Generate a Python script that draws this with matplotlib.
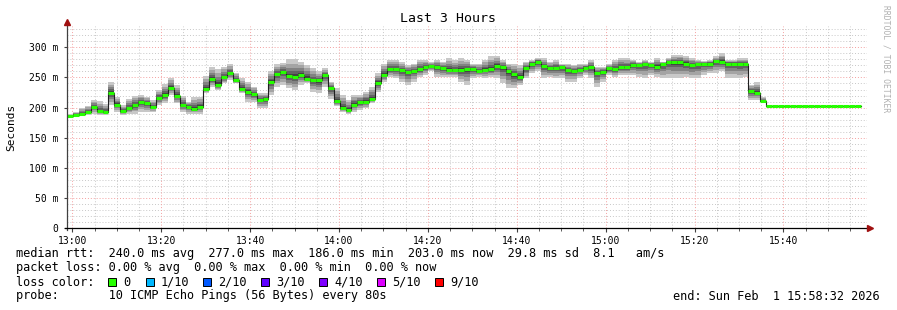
import numpy as np
import matplotlib
matplotlib.use("Agg")
import matplotlib.pyplot as plt
from matplotlib.patches import Rectangle

# ── Data, one value per 80 s step ─────────────────────────────
step_min = 80 / 60.0          # step length in minutes
start_min = -1.2              # first step start, minutes after 13:00

median_ms = [
    186, 188, 189, 192, 201, 194, 193, 225, 205, 194, 199, 204, 209, 207, 201, 216, 221, 233, 219, 204, 201, 198,
    201, 231, 247, 238, 250, 257, 246, 231, 226, 222, 213, 214, 242, 255, 259, 252, 251, 254, 248, 245, 245, 254, 232,
    211, 199, 196, 205, 209, 210, 215, 241, 254, 264, 264, 262, 259, 261, 264, 267, 269, 267, 265, 262, 262, 263,
    264, 264, 261, 263, 264, 269, 267, 261, 255, 250, 265, 273, 276, 269, 265, 266, 267, 263, 261, 263, 266, 267, 258,
    259, 265, 264, 267, 267, 271, 271, 272, 271, 268, 272, 276, 275, 275, 273, 271, 272, 273, 273, 277, 276, 273, 273,
    272, 272, 227, 225, 211,
    203, 203, 203, 203, 203, 203, 203, 203, 203, 203, 203, 203, 203, 203, 203, 203,
]
smoke_hi = [
    189, 193, 200, 203, 213, 211, 206, 242, 218, 204, 215, 220, 221, 218, 213, 229, 239, 249, 238, 220, 210, 218,
    218, 252, 268, 264, 268, 272, 258, 249, 243, 235, 224, 224, 261, 272, 274, 280, 280, 276, 271, 265, 260, 265, 243,
    232, 221, 213, 221, 221, 226, 235, 257, 273, 279, 279, 276, 271, 273, 279, 279, 276, 279, 276, 282, 279, 282,
    279, 273, 273, 279, 285, 286, 279, 273, 273, 271, 276, 279, 283, 282, 276, 279, 273, 273, 271, 273, 273, 279, 268,
    268, 273, 279, 283, 282, 279, 276, 279, 276, 282, 276, 282, 287, 288, 285, 282, 279, 277, 279, 285, 290, 279, 279,
    282, 282, 238, 242, 218,
    203, 203, 203, 203, 203, 203, 203, 203, 203, 203, 203, 203, 203, 203, 203, 203,
]
smoke_lo = [
    182, 185, 186, 188, 190, 188, 188, 204, 193, 188, 190, 190, 193, 193, 193, 204, 207, 221, 207, 193, 190, 190,
    190, 224, 235, 229, 240, 246, 240, 224, 210, 210, 199, 199, 221, 235, 238, 232, 229, 238, 240, 226, 224, 235, 215,
    202, 193, 190, 193, 196, 199, 207, 226, 243, 251, 249, 243, 238, 243, 251, 254, 260, 251, 251, 251, 251, 243,
    238, 249, 251, 249, 251, 249, 240, 232, 232, 238, 249, 257, 260, 249, 251, 249, 249, 243, 243, 249, 254, 249, 235,
    243, 254, 251, 254, 254, 254, 251, 249, 254, 251, 249, 249, 249, 249, 251, 249, 249, 254, 257, 257, 260, 249, 249,
    249, 251, 213, 213, 209,
    203, 203, 203, 203, 203, 203, 203, 203, 203, 203, 203, 203, 203, 203, 203, 203,
]

y_ticks = [0, 50, 100, 150, 200, 250, 300]
y_tick_labels = ["0", "50 m", "100 m", "150 m", "200 m", "250 m", "300 m"]
x_major = [0, 20, 40, 60, 80, 100, 120, 140, 160]

loss_labels = ["0", "1/10", "2/10", "3/10", "4/10", "5/10", "9/10"]
loss_colors = ["#26ff00", "#00b8ff", "#0059ff", "#5e00ff", "#7e00ff", "#dd00ff", "#ff0000"]

legend_lines = [
    "median rtt:  240.0 ms avg  277.0 ms max  186.0 ms min  203.0 ms now  29.8 ms sd  8.1   am/s",
    "packet loss: 0.00 % avg  0.00 % max  0.00 % min  0.00 % now",
    "loss color:",
    "probe:       10 ICMP Echo Pings (56 Bytes) every 80s",
]
end_text = "end: Sun Feb  1 15:58:32 2026"

# ── Figure ────────────────────────────────────────────────────
W, H = 897, 310
plt.rcParams["font.family"] = ["DejaVu Sans Mono"]
fig = plt.figure(figsize=(W / 100, H / 100), dpi=100)
fig.patch.set_facecolor("white")

def fx(px): return px / W
def fy(py): return 1 - py / H

ax = fig.add_axes([fx(67), fy(228), 800 / W, (228 - 26.3) / H])
ax.set_xlim(-1.2, 178.8)
ax.set_ylim(0, 335)

med = np.array(median_ms, float)
hi = np.array(smoke_hi, float)
lo = np.array(smoke_lo, float)
n = len(med)
t0 = start_min + np.arange(n) * step_min
t1 = t0 + step_min
edges = np.append(t0, t1[-1])

def ext(a): return np.append(a, a[-1])

# grid
minor_dot = (0, (1, 2))
for m in np.arange(0, 180, 5):
    if m % 20:
        ax.axvline(m, color="#c8c8c8", lw=0.7, ls=minor_dot, zorder=0)
for v in range(10, 340, 10):
    if v % 50:
        ax.axhline(v, color="#c8c8c8", lw=0.7, ls=minor_dot, zorder=0)
for m in x_major:
    ax.axvline(m, color="#f4a0a0", lw=0.7, ls=minor_dot, zorder=0)
for v in y_ticks[1:]:
    ax.axhline(v, color="#f4a0a0", lw=0.7, ls=minor_dot, zorder=0)

# smoke: layers from outer (light) to inner (dark)
layers = [(1.0, "#c8c8c8"), (0.75, "#a4a4a4"), (0.52, "#828282"),
          (0.32, "#626262"), (0.16, "#424242")]
for frac, col in layers:
    top = med + (hi - med) * frac
    bot = med - (med - lo) * frac
    ax.fill_between(edges, ext(bot), ext(top), step="post",
                    color=col, lw=0, zorder=2)

# median
ax.step(edges, ext(med), where="post", color="#202020", lw=0.8, zorder=3)
ax.hlines(med, t0, t1, color=loss_colors[0], lw=2.2, zorder=4, capstyle="butt")

# axes styling
for s in ax.spines.values():
    s.set_visible(False)
ax.plot([0, 0], [-0.012, 1.015], transform=ax.transAxes, color="#404040",
        lw=0.9, clip_on=False, zorder=5)
ax.plot([-0.002, 1.002], [0, 0], transform=ax.transAxes, color="black",
        lw=0.9, clip_on=False, zorder=5)
ax.plot([0], [1.02], transform=ax.transAxes, marker="^", ms=4.5,
        color="#a01010", clip_on=False, zorder=6)
ax.plot([1.004], [0], transform=ax.transAxes, marker=">", ms=4.5,
        color="#a01010", clip_on=False, zorder=6)

ax.set_xticks(x_major)
ax.set_xticklabels([f"{13 + m // 60}:{m % 60:02d}" for m in x_major])
ax.set_xticks(np.arange(0, 180, 5), minor=True)
ax.set_yticks(y_ticks)
ax.set_yticklabels(y_tick_labels)
ax.tick_params(axis="both", which="both", labelsize=7, colors="#404040",
               labelcolor="black", direction="out")
ax.tick_params(axis="x", which="major", length=3, pad=3)
ax.tick_params(axis="x", which="minor", length=2)
ax.tick_params(axis="y", which="major", length=2, pad=4)

fig.text(fx(11), fy(127), "Seconds", rotation=90, ha="center", va="center",
         fontsize=8)
fig.text(fx(448), fy(19), "Last 3 Hours", ha="center", va="center",
         fontsize=9.5)
fig.text(fx(886), fy(59), "RRDTOOL / TOBI OETIKER", rotation=-90,
         ha="center", va="center", fontsize=5.8, color="#b0b0b0")

# legend
line_y = [254, 268, 282, 296]
for txt, yy in zip(legend_lines, line_y):
    fig.text(fx(16), fy(yy), txt, ha="left", va="center", fontsize=8.55)
fig.text(fx(880), fy(296), end_text, ha="right", va="center", fontsize=8.55)

box_x = [108, 145.5, 203, 261, 319, 377, 435]
for bx, lab, col in zip(box_x, loss_labels, loss_colors):
    fig.add_artist(Rectangle((fx(bx), fy(286)), 8 / W, 8 / H,
                             transform=fig.transFigure, facecolor=col,
                             edgecolor="black", lw=0.7))
    fig.text(fx(bx + 15), fy(282), lab, ha="left", va="center", fontsize=8.55)

fig.savefig("out.png", dpi=100, facecolor="white")
